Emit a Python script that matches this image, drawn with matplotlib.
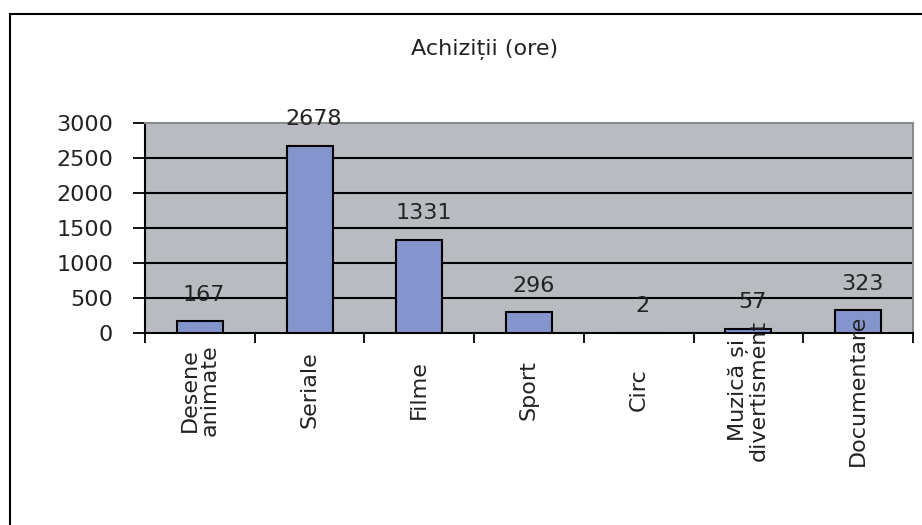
import matplotlib.pyplot as plt
from matplotlib.patches import Rectangle

categories = ['Desene\nanimate', 'Seriale', 'Filme', 'Sport', 'Circ',
              'Muzică și\ndivertisment', 'Documentare']
values = [167, 2678, 1331, 296, 2, 57, 323]
yticks = [0, 500, 1000, 1500, 2000, 2500, 3000]

plt.rcParams['font.family'] = ['DejaVu Sans']

fig = plt.figure(figsize=(9.22, 5.25), dpi=100)
# outer chart border
fig.patches.append(Rectangle((10 / 922, -0.05), 1.0, 1 - 14 / 525 + 0.05,
                             transform=fig.transFigure, fill=False,
                             edgecolor='black', linewidth=1.5))

ax = fig.add_axes([145 / 922, 1 - 333 / 525, (913 - 145) / 922, (333 - 123) / 525])
ax.set_facecolor('#B8BCC0')

x = list(range(len(values)))
ax.bar(x, values, width=0.42, color='#8494CC', edgecolor='black', linewidth=1.5, zorder=3)

for xi, v in zip(x, values):
    ax.annotate(str(v), (xi, v), xytext=(3, 12), textcoords='offset points',
                ha='center', va='bottom', fontsize=16, color='#222222', zorder=4)

ax.set_xlim(-0.5, len(values) - 0.5)
ax.set_ylim(0, 3000)
ax.set_yticks(yticks)
ax.set_yticklabels([str(t) for t in yticks], fontsize=16, color='#222222')
for t in yticks[1:-1]:
    ax.axhline(t, color='black', linewidth=1.5, zorder=1)

# category ticks at boundaries, labels centered under bars
ax.set_xticks([i - 0.5 for i in range(len(values) + 1)])
ax.set_xticklabels([])
ax.set_xticks(x, minor=True)
ax.set_xticklabels(categories, minor=True, rotation=90, fontsize=16,
                   va='center', ha='center', color='#222222', linespacing=1.0)
ax.tick_params(axis='x', which='minor', length=0, pad=41)
ax.tick_params(axis='x', which='major', length=7, width=1.3, direction='out')
ax.tick_params(axis='y', length=9, width=1.3, direction='out', pad=14)
ax.xaxis.set_zorder(5)

for s in ['top', 'right']:
    ax.spines[s].set_color('#8A8A8A')
    ax.spines[s].set_linewidth(1.5)
for s in ['left', 'bottom']:
    ax.spines[s].set_color('black')
    ax.spines[s].set_linewidth(1.5)

fig.text(0.526, 1 - 50 / 525, 'Achiziții (ore)', ha='center', va='center',
         fontsize=16, color='#222222')

fig.savefig('out.png', dpi=100)
